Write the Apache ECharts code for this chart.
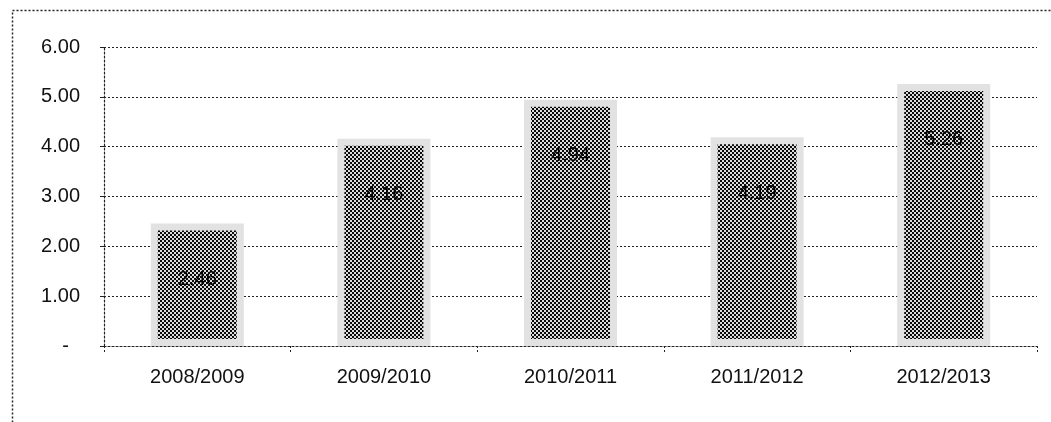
<!DOCTYPE html>
<html>
<head>
<meta charset="utf-8">
<script src="https://cdn.jsdelivr.net/npm/echarts@6/dist/echarts.min.js"></script>
<style>html,body{margin:0;padding:0;background:#fff}#c{width:1051px;height:422px}</style>
</head>
<body>
<div id="c"></div>
<script>
var categories = ['2008/2009', '2009/2010', '2010/2011', '2011/2012', '2012/2013'];
var values = [2.46, 4.16, 4.94, 4.19, 5.26];
var yTicks = [0, 1, 2, 3, 4, 5, 6];

function makePattern() {
  var cv = document.createElement('canvas');
  cv.width = 4; cv.height = 4;
  var ctx = cv.getContext('2d');
  ctx.fillStyle = '#dcdcdc';
  ctx.fillRect(0, 0, 4, 4);
  ctx.fillStyle = '#0a0a0a';
  ctx.fillRect(0, 0, 2, 2);
  ctx.fillRect(2, 2, 2, 2);
  return cv;
}

var chart = echarts.init(document.getElementById('c'));
var font = '"Liberation Sans", Arial, sans-serif';
chart.setOption({
  animation: false,
  backgroundColor: '#fff',
  grid: { left: 104, right: 14, top: 47, bottom: 76 },
  graphic: [{
    type: 'rect', left: 10, top: 8,
    shape: { width: 1100, height: 500 },
    style: { fill: 'none', stroke: '#222', lineWidth: 1.5, lineDash: [2, 2] },
    silent: true
  }],
  xAxis: {
    type: 'category',
    data: categories,
    axisLine: { lineStyle: { color: '#222', type: [2, 2], width: 1.2 } },
    axisTick: { show: true, length: 6, lineStyle: { color: '#222', type: [2, 2] } },
    axisLabel: { fontFamily: font, fontSize: 20, color: '#111', margin: 21 }
  },
  yAxis: {
    type: 'value', min: 0, max: 6, interval: 1,
    axisLine: { show: true, lineStyle: { color: '#222', type: [2, 2], width: 1.2 } },
    axisTick: { show: true, length: 4, lineStyle: { color: '#222' } },
    splitLine: { lineStyle: { color: '#222', type: [2, 2], width: 1 } },
    axisLabel: {
      fontFamily: font, fontSize: 20, color: '#111', margin: 24,
      formatter: function (v) { return yTicks.indexOf(v) === 0 ? '-\u00a0\u00a0' : v.toFixed(2); }
    }
  },
  series: [{
    type: 'bar',
    data: values,
    barWidth: 93,
    itemStyle: {
      color: { image: makePattern(), repeat: 'repeat' },
      borderColor: '#e2e2e2',
      borderWidth: 7
    },
    label: {
      show: true, position: 'insideTop', distance: 46,
      formatter: function (p) { return p.value.toFixed(2); },
      fontFamily: font, fontSize: 20, color: '#000'
    }
  }]
});
</script>
</body>
</html>
